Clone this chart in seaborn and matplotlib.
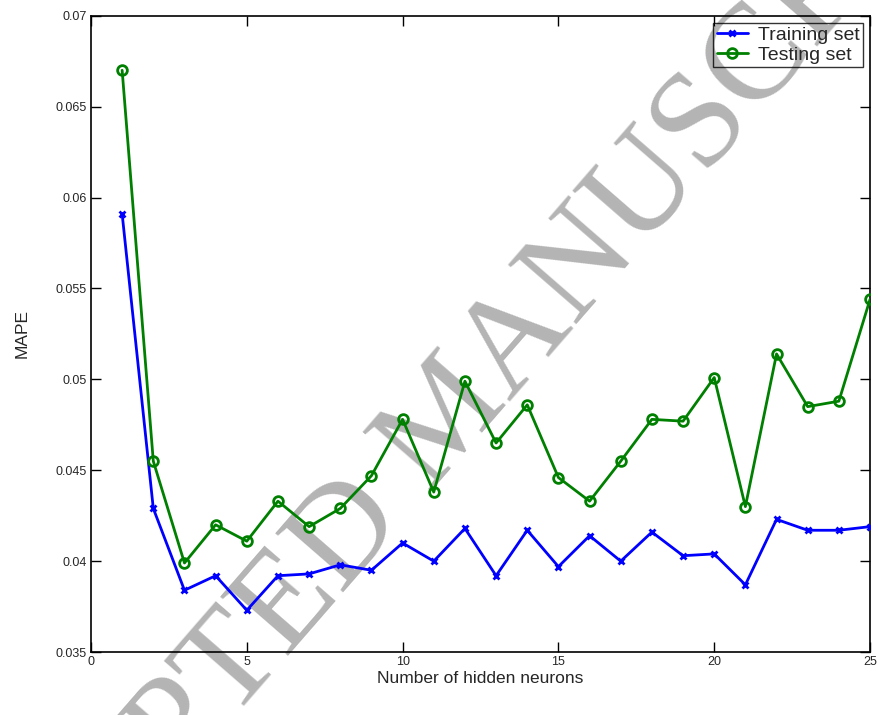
import pandas as pd
import matplotlib
matplotlib.use('Agg')
import matplotlib.pyplot as plt
import seaborn as sns

# === DATA ===
NEURONS = list(range(1, 26))
TRAIN_MAPE = [0.0591, 0.0429, 0.0384, 0.0392, 0.0373, 0.0392, 0.0393, 0.0398, 0.0395, 0.0410,
              0.0400, 0.0418, 0.0392, 0.0417, 0.0397, 0.0414, 0.0400, 0.0416, 0.0403, 0.0404,
              0.0387, 0.0423, 0.0417, 0.0417, 0.0419]
TEST_MAPE = [0.0670, 0.0455, 0.0399, 0.0420, 0.0411, 0.0433, 0.0419, 0.0429, 0.0447, 0.0478,
             0.0438, 0.0499, 0.0465, 0.0486, 0.0446, 0.0433, 0.0455, 0.0478, 0.0477, 0.0501,
             0.0430, 0.0514, 0.0485, 0.0488, 0.0544]
Y_TICKS = [0.035, 0.04, 0.045, 0.05, 0.055, 0.06, 0.065, 0.07]
Y_TICK_LABELS = ['0.035', '0.04', '0.045', '0.05', '0.055', '0.06', '0.065', '0.07']
X_TICKS = [0, 5, 10, 15, 20, 25]

sns.set_style('ticks')
plt.rcParams['font.family'] = ['Liberation Sans', 'DejaVu Sans']
plt.rcParams['xtick.direction'] = 'in'
plt.rcParams['ytick.direction'] = 'in'
plt.rcParams['xtick.top'] = True
plt.rcParams['ytick.right'] = True

fig = plt.figure(figsize=(8.79, 7.15), dpi=100)
ax = fig.add_axes([0.1035, 0.088, 0.8863, 0.890])

df = pd.DataFrame({'neurons': NEURONS, 'train': TRAIN_MAPE, 'test': TEST_MAPE})

sns.lineplot(data=df, x='neurons', y='train', ax=ax, color='#0000ff', lw=2,
             marker='x', markersize=5, mew=2, mec='#0000ff', label='Training set', zorder=3)
sns.lineplot(data=df, x='neurons', y='test', ax=ax, color='#008000', lw=2,
             marker='o', markersize=7, mew=2, mec='#008000', mfc='none',
             label='Testing set', zorder=3)

ax.set_xlim(0, 25)
ax.set_ylim(0.035, 0.07)
ax.set_xticks(X_TICKS)
ax.set_yticks(Y_TICKS)
ax.set_yticklabels(Y_TICK_LABELS)
ax.tick_params(labelsize=9, length=7, width=1, color='black', pad=3)
for s in ax.spines.values():
    s.set_linewidth(1.2)
    s.set_color('black')

ax.set_xlabel('Number of hidden neurons', fontsize=12.5, labelpad=2)
ax.set_ylabel('MAPE', fontsize=12.5, labelpad=19)

leg = ax.legend(loc='upper right', fontsize=14, frameon=True, fancybox=False,
                edgecolor='black', facecolor='none', borderaxespad=0.35,
                handlelength=1.6, handletextpad=0.5, borderpad=0.2, labelspacing=0.1)
leg.get_frame().set_linewidth(1)

# watermark: under the curves, ticks and spines
ax.text(0.512, 0.414, 'ACCEPTED MANUSCRIPT', fontsize=99, family='Liberation Serif',
        color='#b4b4b4', rotation=49, ha='center', va='center', rotation_mode='anchor',
        transform=fig.transFigure, clip_on=False, zorder=0.4)

plt.savefig('out.png', dpi=100)
